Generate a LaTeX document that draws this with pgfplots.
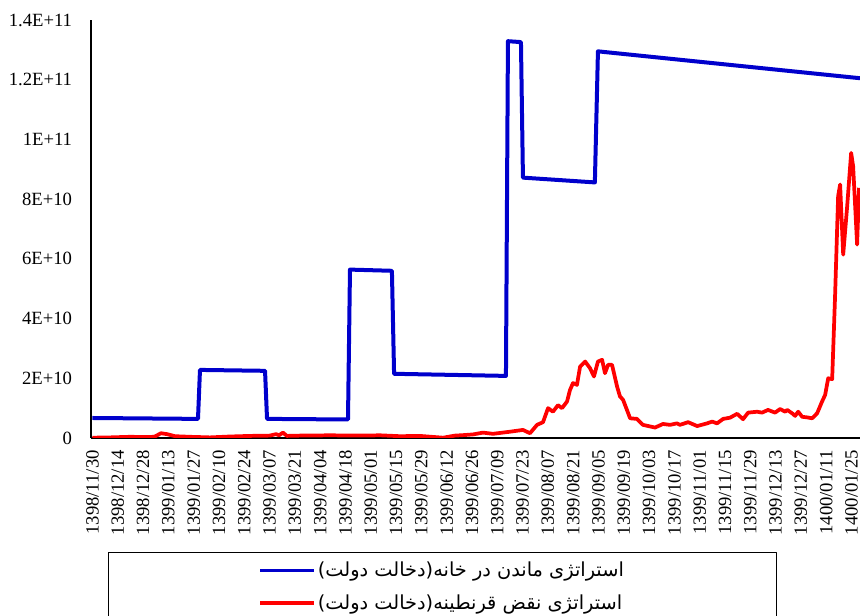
\documentclass[border=0pt]{standalone}
\usepackage{pgfplots}
\pgfplotsset{compat=1.18}
\usepackage{fontspec}
\setmainfont{Liberation Serif}
\newfontfamily\arabicfont[Script=Arabic]{DejaVu Sans}
\TeXXeTstate=1
\definecolor{cblue}{RGB}{0,0,204}
\definecolor{cred}{RGB}{255,0,0}
\begin{document}
\begin{tikzpicture}
\begin{axis}[
  at={(0pt,0pt)}, anchor=south west,
  scale only axis,
  width=576.75pt, height=313.5pt,
  xmin=-0.8, xmax=424.7,
  ymin=0, ymax=1.4e11,
  axis x line=bottom, axis y line=left,
  axis line style={-, black, line width=1.1pt},
  major tick length=0pt,
  scaled y ticks=false,
  /pgf/number format/assume math mode=true,
  ytick={0,2e10,4e10,6e10,8e10,1e11,1.2e11,1.4e11},
  yticklabels={0,2E+10,4E+10,6E+10,8E+10,1E+11,1.2E+11,1.4E+11},
  xtick={0,14,...,420},
  xticklabels={1398/11/30,1398/12/14,1398/12/28,1399/01/13,1399/01/27,1399/02/10,1399/02/24,1399/03/07,1399/03/21,1399/04/04,1399/04/18,1399/05/01,1399/05/15,1399/05/29,1399/06/12,1399/06/26,1399/07/09,1399/07/23,1399/08/07,1399/08/21,1399/09/05,1399/09/19,1399/10/03,1399/10/17,1399/11/01,1399/11/15,1399/11/29,1399/12/13,1399/12/27,1400/01/11,1400/01/25},
  tick label style={font=\fontsize{14}{16}\selectfont, inner sep=0pt},
  yticklabel style={anchor=east},
  yticklabel shift=14pt,
  xticklabel style={rotate=90, anchor=east},
  xticklabel shift=9pt,
  legend style={at={(0.0221,-0.2727)}, anchor=north west, draw=black, line width=1.1pt,
    inner xsep=112.5pt, inner ysep=5pt, font=\arabicfont\fontsize{14.5}{16}\selectfont,
    row sep=8pt},
  legend cell align=left,
  legend image code/.code={\draw[#1,line width=2.4pt] (0pt,0pt) -- (40pt,0pt);},
  line join=round,
]
\addplot[color=cblue, line width=3pt] coordinates {
(0,6.7e9) (58.4,6.4e9) (59.5,22.8e9) (95.5,22.5e9) (96.6,6.4e9) (141.4,6.2e9)
(142.5,56.4e9) (165.7,56.0e9) (166.9,21.5e9) (228.8,20.8e9) (229.9,132.9e9)
(237.1,132.6e9) (238.2,87.2e9) (278.0,85.6e9) (279.7,129.5e9) (424.7,120.5e9)
};
\addlegendentry{\beginR استراتژی ماندن در خانه(دخالت دولت)\endR}
\addplot[color=cred, line width=2.8pt] coordinates {
(0,0.1e9) (9.7,0.2e9) (20.8,0.4e9) (31.8,0.3e9) (34.6,0.5e9) (37.9,1.6e9) (41.2,1.3e9)
(45.7,0.6e9) (54.0,0.4e9) (65.0,0.2e9) (76.1,0.5e9) (87.2,0.7e9) (98.2,0.8e9)
(101.6,1.3e9) (103.2,0.9e9) (105.4,1.8e9) (107.6,0.7e9) (114.8,0.8e9) (131.4,0.9e9)
(148.0,0.8e9) (159.1,0.9e9) (170.2,0.6e9) (181.2,0.7e9) (194.0,0.1e9) (200.6,0.8e9)
(206.2,1.0e9) (210.6,1.2e9) (216.1,1.8e9) (221.6,1.4e9) (231.0,2.1e9) (238.2,2.7e9)
(242.1,1.6e9) (246.0,4.4e9) (249.3,5.3e9) (252.1,10.0e9) (254.8,8.8e9) (257.6,11.0e9)
(259.8,10.0e9) (262.6,12.2e9) (264.2,16.0e9) (265.9,18.4e9) (268.1,17.8e9)
(269.8,23.9e9) (272.6,25.6e9) (275.3,23.4e9) (277.5,20.6e9) (279.7,25.6e9)
(282.0,26.2e9) (283.6,21.7e9) (285.3,24.5e9) (287.5,24.5e9) (290.3,17.2e9)
(291.9,13.9e9) (293.6,12.8e9) (297.5,6.6e9) (301.3,6.4e9) (304.6,4.4e9) (311.3,3.5e9)
(315.7,4.7e9) (319.6,4.4e9) (323.4,4.9e9) (325.1,4.4e9) (329.6,5.3e9) (334.6,4.0e9)
(340.1,4.9e9) (342.9,5.5e9) (345.6,4.9e9) (349.0,6.4e9) (352.8,6.8e9) (356.7,8.1e9)
(360.0,6.3e9) (362.8,8.5e9) (367.8,8.8e9) (370.5,8.5e9) (373.8,9.4e9) (377.7,8.5e9)
(380.5,9.7e9) (383.3,8.8e9) (384.4,9.4e9) (387.1,8.3e9) (388.8,7.4e9) (390.5,8.8e9)
(392.7,7.1e9) (395.5,6.9e9) (398.2,6.6e9) (401.0,8.3e9) (403.7,12.2e9) (405.4,14.4e9)
(407.1,20.0e9) (409.3,19.7e9) (410.9,47.4e9) (412.6,81.0e9) (413.7,84.9e9)
(415.4,61.4e9) (417.6,77.6e9) (419.8,95.5e9) (420.9,91.0e9) (423.1,64.8e9)
(424.2,83.8e9)
};
\addlegendentry{\beginR استراتژی نقض قرنطینه(دخالت دولت)\endR}
\end{axis}
\pgfresetboundingbox
\useasboundingbox (-68.25pt,-133.5pt) rectangle (576.75pt,328.5pt);
\end{tikzpicture}
\end{document}
